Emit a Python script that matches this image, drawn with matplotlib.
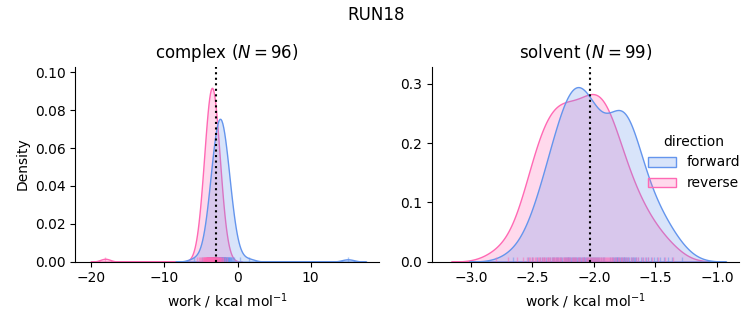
import numpy as np
import pandas as pd
import matplotlib
matplotlib.use("Agg")
import matplotlib.pyplot as plt
from matplotlib.ticker import MultipleLocator
import seaborn as sns

run_name = "RUN18"
phases = ["complex", "solvent"]
directions = ["forward", "reverse"]
colors = {"forward": "cornflowerblue", "reverse": "hotpink"}

complex_forward = [
    -6.00, -4.90, -4.24, -4.10, -3.99, -3.89, -3.81, -3.74, -3.67, -3.62,
    -3.56, -3.51, -3.46, -3.42, -3.38, -3.33, -3.29, -3.26, -3.22, -3.18,
    -3.15, -3.11, -3.08, -3.05, -3.02, -2.99, -2.96, -2.93, -2.89, -2.87,
    -2.85, -2.82, -2.79, -2.76, -2.73, -2.70, -2.69, -2.66, -2.63, -2.60,
    -2.58, -2.55, -2.52, -2.50, -2.48, -2.45, -2.43, -2.40, -2.37, -2.35,
    -2.32, -2.29, -2.27, -2.24, -2.21, -2.19, -2.16, -2.13, -2.10, -2.08,
    -2.05, -2.02, -1.99, -1.96, -1.93, -1.91, -1.88, -1.84, -1.81, -1.78,
    -1.75, -1.72, -1.68, -1.65, -1.61, -1.58, -1.54, -1.50, -1.46, -1.42,
    -1.37, -1.33, -1.28, -1.23, -1.18, -1.12, -1.06, -0.99, -0.91, -0.83,
    -0.73, -0.61, -0.46, 0.30, 1.60, 15.10]
complex_reverse = [
    -18.10, -5.57, -5.24, -5.07, -4.95, -4.85, -4.77, -4.71, -4.64, -4.59,
    -4.54, -4.49, -4.45, -4.41, -4.37, -4.33, -4.29, -4.26, -4.23, -4.20,
    -4.16, -4.14, -4.11, -4.08, -4.05, -4.03, -4.00, -3.98, -3.95, -3.92,
    -3.90, -3.88, -3.86, -3.83, -3.81, -3.78, -3.76, -3.74, -3.72, -3.69,
    -3.67, -3.65, -3.63, -3.61, -3.59, -3.56, -3.54, -3.52, -3.50, -3.48,
    -3.46, -3.44, -3.41, -3.39, -3.37, -3.35, -3.33, -3.31, -3.28, -3.26,
    -3.24, -3.22, -3.19, -3.17, -3.14, -3.12, -3.10, -3.08, -3.05, -3.02,
    -3.00, -2.97, -2.95, -2.92, -2.89, -2.86, -2.84, -2.80, -2.77, -2.74,
    -2.71, -2.67, -2.63, -2.59, -2.55, -2.51, -2.46, -2.41, -2.36, -2.29,
    -2.23, -2.15, -2.05, -1.93, -1.76, -1.43]
solvent_forward = [
    -2.660,
    -2.533, -2.500, -2.467,
    -2.442, -2.425, -2.408, -2.392, -2.375, -2.358,
    -2.344, -2.333, -2.322, -2.311, -2.300, -2.289, -2.278, -2.267, -2.256,
    -2.246, -2.238, -2.231, -2.223, -2.215, -2.208, -2.200, -2.192, -2.185, -2.177, -2.169, -2.162, -2.154,
    -2.146, -2.138, -2.131, -2.123, -2.115, -2.108, -2.100, -2.092, -2.085, -2.077, -2.069, -2.062, -2.054,
    -2.045, -2.036, -2.027, -2.018, -2.009, -2.000, -1.991, -1.982, -1.973, -1.964, -1.955,
    -1.945, -1.930, -1.915, -1.870, -1.855,
    -1.845, -1.838, -1.831, -1.824, -1.816, -1.809, -1.802, -1.795, -1.788, -1.781,
    -1.774, -1.766, -1.759, -1.752, -1.745,
    -1.738, -1.729, -1.720, -1.711, -1.702, -1.693, -1.684, -1.675, -1.666, -1.657,
    -1.640, -1.620, -1.600, -1.580, -1.560,
    -1.538, -1.513, -1.488, -1.463,
    -1.433, -1.400, -1.367,
    -1.280]
solvent_reverse = [
    -2.800,
    -2.700,
    -2.625, -2.575,
    -2.544, -2.531, -2.519, -2.506, -2.494, -2.481, -2.469, -2.456,
    -2.445, -2.435, -2.425, -2.415, -2.405, -2.395, -2.385, -2.375, -2.365, -2.355,
    -2.345, -2.336, -2.327, -2.318, -2.309, -2.300, -2.291, -2.282, -2.273, -2.264, -2.255,
    -2.245, -2.236, -2.227, -2.218, -2.209, -2.200, -2.191, -2.182, -2.173, -2.164, -2.155,
    -2.144, -2.133, -2.122, -2.111, -2.100, -2.089, -2.078, -2.067, -2.056,
    -2.046, -2.038, -2.031, -2.023, -2.015, -2.008, -2.000, -1.992, -1.985, -1.977, -1.969, -1.962, -1.954,
    -1.946, -1.937, -1.929, -1.921, -1.912, -1.904, -1.896, -1.887, -1.879, -1.871, -1.862, -1.854,
    -1.844, -1.831, -1.819, -1.806, -1.794, -1.781, -1.769, -1.756,
    -1.740, -1.720, -1.700, -1.680, -1.660,
    -1.638, -1.613, -1.588, -1.563,
    -1.525, -1.475,
    -1.420,
    -1.355]

# free energy estimates (dotted lines)
free_energy = {"complex": -2.95, "solvent": -2.03}

works = {
    ("complex", "forward"): complex_forward,
    ("complex", "reverse"): complex_reverse,
    ("solvent", "forward"): solvent_forward,
    ("solvent", "reverse"): solvent_reverse,
}
frames = []
for (phase, direction), w in works.items():
    frames.append(pd.DataFrame({"phase": phase, "direction": direction, "work": w}))
df = pd.concat(frames, ignore_index=True)

g = sns.displot(data=df, x="work", col="phase", hue="direction", kind="kde",
                fill=True, rug=True, col_order=phases, hue_order=directions,
                palette=colors, facet_kws=dict(sharex=False, sharey=False),
                rug_kws=dict(alpha=0.5))

fig = g.figure
fig.set_size_inches(7.53, 3.25)
fig.suptitle(run_name)

positions = [[0.100, 0.195, 0.4037, 0.600], [0.5733, 0.195, 0.4081, 0.600]]
xlims = [(-22.2, 19.4), (-3.32, -0.82)]
ylims = [(0, 0.103), (0, 0.329)]
for ax, phase, pos, xl, yl in zip(g.axes.flat, phases, positions, xlims, ylims):
    ax.set_position(pos)
    n = len(works[(phase, "forward")])
    ax.set_title(f"{phase} ($N = {n}$)")
    ax.axvline(free_energy[phase], color="k", ls=":", lw=1.5)
    ax.set_xlabel("work / kcal mol$^{-1}$")
    ax.set_xlim(xl)
    ax.set_ylim(yl)
g.axes.flat[0].set_ylabel("Density")
g.axes.flat[1].set_ylabel("")
g.axes.flat[1].yaxis.set_major_locator(MultipleLocator(0.1))

sns.move_legend(g, "center right", bbox_to_anchor=(1.0, 0.5), frameon=False)

fig.savefig("out.png", dpi=100)
